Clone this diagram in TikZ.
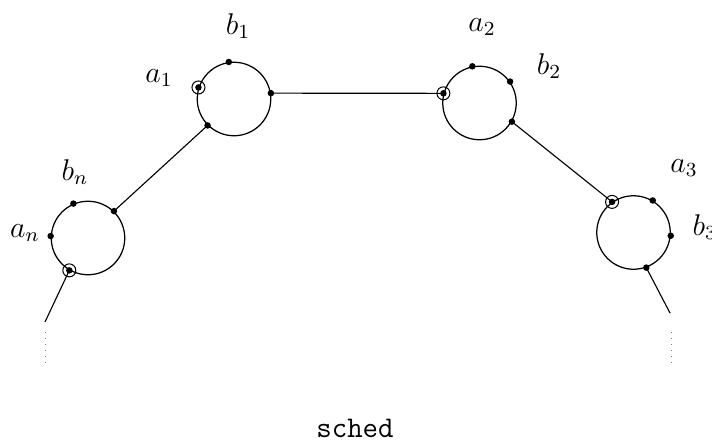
\documentclass[tikz,border=0pt]{standalone}
\begin{document}
\begin{tikzpicture}[x=0.4pt,y=-0.4pt,
  ring/.style={circle,draw,inner sep=0pt,minimum size=29.4pt,line width=0.5pt},
  pt/.style={circle,fill,inner sep=0pt,minimum size=2.6pt},
  halo/.style={circle,draw,inner sep=0pt,minimum size=5.2pt,line width=0.4pt},
  lbl/.style={inner sep=0pt,font=\fontsize{12}{14}\selectfont},
  edge/.style={line width=0.45pt},
  dots/.style={line width=0.4pt,gray,dotted}]
\useasboundingbox (0,0) rectangle (712,440);
\begin{scope}
\clip (0,0) rectangle (712,440);
% circles
\node[ring] (c1) at (234,99) {};
\node[ring] (c2) at (479.5,103) {};
\node[ring] (c3) at (633.5,232.5) {};
\node[ring] (cn) at (88,238) {};
% dots on circle 1
\node[pt] (c1t) at (c1.98) {};
\node[pt] (c1a) at (c1.162) {};
\node[halo] at (c1.162) {};
\node[pt] (c1r) at (c1.9) {};
\node[pt] (c1l) at (c1.225) {};
% circle 2
\node[pt] (c2t) at (c2.101) {};
\node[pt] (c2b) at (c2.35) {};
\node[pt] (c2a) at (c2.165) {};
\node[halo] at (c2.165) {};
\node[pt] (c2r) at (c2.-30) {};
% circle 3
\node[pt] (c3a) at (c3.125) {};
\node[halo] at (c3.125) {};
\node[pt] (c3t) at (c3.59) {};
\node[pt] (c3b) at (c3.-5) {};
\node[pt] (c3d) at (c3.-70) {};
% circle n
\node[pt] (cnt) at (cn.113) {};
\node[pt] (cnr) at (cn.46) {};
\node[pt] (cnl) at (cn.177) {};
\node[pt] (cna) at (cn.240) {};
\node[halo] at (cn.240) {};
% connectors
\draw[edge] (c1r.center) -- (c2a.center);
\draw[edge] (c2r.center) -- (c3a.center);
\draw[edge] (cnr.center) -- (c1l.center);
\coordinate (ln) at (45,322);
\coordinate (l3) at (670,313);
\draw[edge] (cna.center) -- (ln);
\draw[edge] (c3d.center) -- (l3);
\coordinate (dn1) at (45,332);
\coordinate (dn2) at (45,368);
\coordinate (d31) at (671,332);
\coordinate (d32) at (671,368);
\draw[dots] (dn1) -- (dn2);
\draw[dots] (d31) -- (d32);
% labels
\node[lbl] (lb1) at (238,26) {$b_1$};
\node[lbl] (la1) at (159,78) {$a_1$};
\node[lbl] (la2) at (482,27) {$a_2$};
\node[lbl] (lb2) at (549,66) {$b_2$};
\node[lbl] (lbn) at (75,172) {$b_n$};
\node[lbl] (lan) at (25,233) {$a_n$};
\node[lbl] (la3) at (684,168) {$a_3$};
\node[lbl,anchor=west] (lb3) at (692,227) {$b_3$};
\node[lbl] (sched) at (355,428) {\texttt{sched}};
\end{scope}
\end{tikzpicture}
\end{document}
